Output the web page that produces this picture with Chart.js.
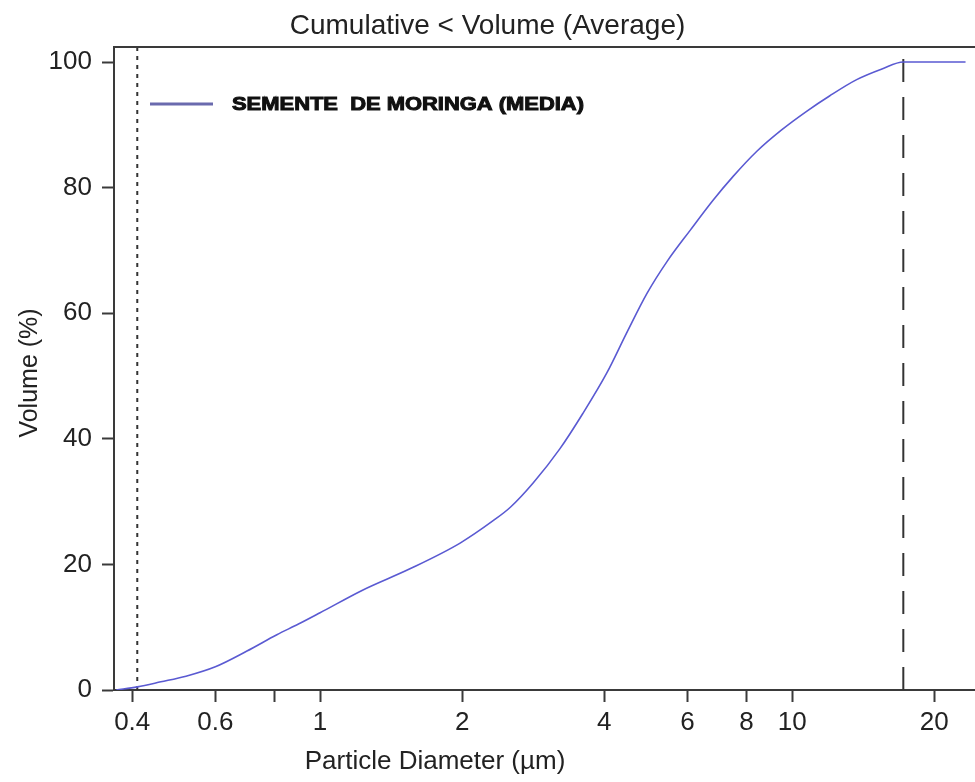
<!DOCTYPE html>
<html>
<head>
<meta charset="utf-8">
<script src="https://cdn.jsdelivr.net/npm/chart.js@4"></script>
<style>
  html, body { margin: 0; padding: 0; background: #fff; }
  #wrap { width: 975px; height: 782px; }
</style>
</head>
<body>
<div id="wrap"><canvas id="chart" width="975" height="782"></canvas></div>
<script>
// cumulative volume curve
const diameter = [0.37, 0.41, 0.46, 0.52, 0.6, 0.7, 0.81, 0.9, 1.0, 1.23, 1.55, 1.98, 2.33, 2.53, 2.83,
                  3.22, 3.6, 4.05, 4.47, 4.93, 5.44, 6.08, 6.8, 7.5, 8.42, 9.5, 10.75, 12, 13.7, 15.5, 17.2, 20, 23.3];
const volume   = [0, 0.5, 1.3, 2.2, 3.7, 6.2, 8.8, 10.5, 12.3, 15.9, 19.3, 23.4, 27, 29.1, 33,
                  38.4, 44, 50.5, 57, 63.2, 68.3, 73.2, 78, 81.8, 85.8, 89.2, 92.2, 94.6, 97.2, 98.9, 100, 100, 100];

const xTicks      = [0.4, 0.6, 0.8, 1, 2, 4, 6, 8, 10, 20];
const xTickLabels = ['0.4', '0.6', '', '1', '2', '4', '6', '8', '10', '20'];
const yTicks      = [0, 20, 40, 60, 80, 100];

const dotLineX  = 0.41;   // dotted marker (left)
const dashLineX = 17.2;   // dashed marker (right)

const seriesLabel = 'SEMENTE  DE MORINGA (MEDIA)';
const xMin = 0.366, xMax = 24.4, yMax = 102.4;

const CURVE = '#5a5ad2';
const AXIS  = '#3a3a3a';
const FONT  = "'Liberation Sans', Arial, sans-serif";

// top frame line, legend and axis titles
const decorations = {
  id: 'decorations',
  afterDraw(chart) {
    const { ctx, chartArea: a } = chart;
    ctx.save();
    ctx.strokeStyle = AXIS;
    ctx.lineWidth = 2;
    ctx.beginPath();
    ctx.moveTo(a.left, a.top);
    ctx.lineTo(a.right, a.top);
    ctx.stroke();

    // legend
    ctx.strokeStyle = '#6a6aae';
    ctx.lineWidth = 3;
    ctx.beginPath();
    ctx.moveTo(150, 104);
    ctx.lineTo(213, 104);
    ctx.stroke();
    ctx.fillStyle = '#111';
    ctx.strokeStyle = '#111';
    ctx.lineWidth = 1;
    ctx.font = 'bold 19px ' + FONT;
    ctx.textBaseline = 'middle';
    const w = ctx.measureText(seriesLabel).width;
    ctx.translate(232, 105);
    ctx.scale(352 / w, 1);
    ctx.fillText(seriesLabel, 0, 0);
    ctx.strokeText(seriesLabel, 0, 0);
    ctx.restore();

    ctx.save();
    ctx.fillStyle = '#222';
    ctx.font = '26px ' + FONT;
    ctx.textAlign = 'center';
    ctx.textBaseline = 'middle';
    ctx.fillText('Particle Diameter (µm)', 435, 762);
    ctx.font = '25px ' + FONT;
    ctx.translate(30, 373);
    ctx.rotate(-Math.PI / 2);
    ctx.fillText('Volume (%)', 0, 0);
    ctx.restore();
  }
};

new Chart(document.getElementById('chart'), {
  type: 'line',
  data: {
    datasets: [
      {
        label: seriesLabel,
        data: diameter.map((d, i) => ({ x: d, y: volume[i] })),
        borderColor: CURVE, borderWidth: 1.6, pointRadius: 0,
        cubicInterpolationMode: 'monotone', fill: false,
      },
      {
        label: 'dot',
        data: [{ x: dotLineX, y: 0 }, { x: dotLineX, y: yMax }],
        borderColor: '#333', borderWidth: 2, borderDash: [4, 5], pointRadius: 0,
      },
      {
        label: 'dash',
        data: [{ x: dashLineX, y: 0 }, { x: dashLineX, y: yMax }],
        borderColor: '#333', borderWidth: 2, borderDash: [23, 15], pointRadius: 0,
      },
    ],
  },
  options: {
    responsive: false,
    animation: false,
    layout: { padding: 0 },
    plugins: {
      legend: { display: false },
      tooltip: { enabled: false },
      title: {
        display: true,
        text: 'Cumulative < Volume (Average)',
        color: '#222',
        font: { family: FONT, size: 28, weight: 'normal', lineHeight: 1.2 },
        padding: { top: 9, bottom: 4.4 },
      },
    },
    scales: {
      x: {
        type: 'logarithmic',
        min: xMin, max: xMax,
        afterBuildTicks: s => { s.ticks = xTicks.map(v => ({ value: v })); },
        afterFit: s => { s.height = 92; },
        grid: { drawOnChartArea: false, drawTicks: true, tickLength: 12, tickColor: AXIS, tickWidth: 2 },
        border: { display: true, color: AXIS, width: 2 },
        ticks: {
          autoSkip: false, maxRotation: 0, padding: 5, color: '#222',
          font: { family: FONT, size: 26 },
          callback: v => { const i = xTicks.indexOf(v); return i >= 0 ? xTickLabels[i] : ''; },
        },
      },
      y: {
        min: 0, max: yMax,
        afterBuildTicks: s => { s.ticks = yTicks.map(v => ({ value: v })); },
        afterFit: s => { s.width = 114; },
        grid: { drawOnChartArea: false, drawTicks: true, tickLength: 12, tickColor: AXIS, tickWidth: 2 },
        border: { display: true, color: AXIS, width: 2 },
        ticks: { padding: 10, color: '#222', font: { family: FONT, size: 26 } },
      },
    },
  },
  plugins: [decorations],
});
</script>
</body>
</html>
